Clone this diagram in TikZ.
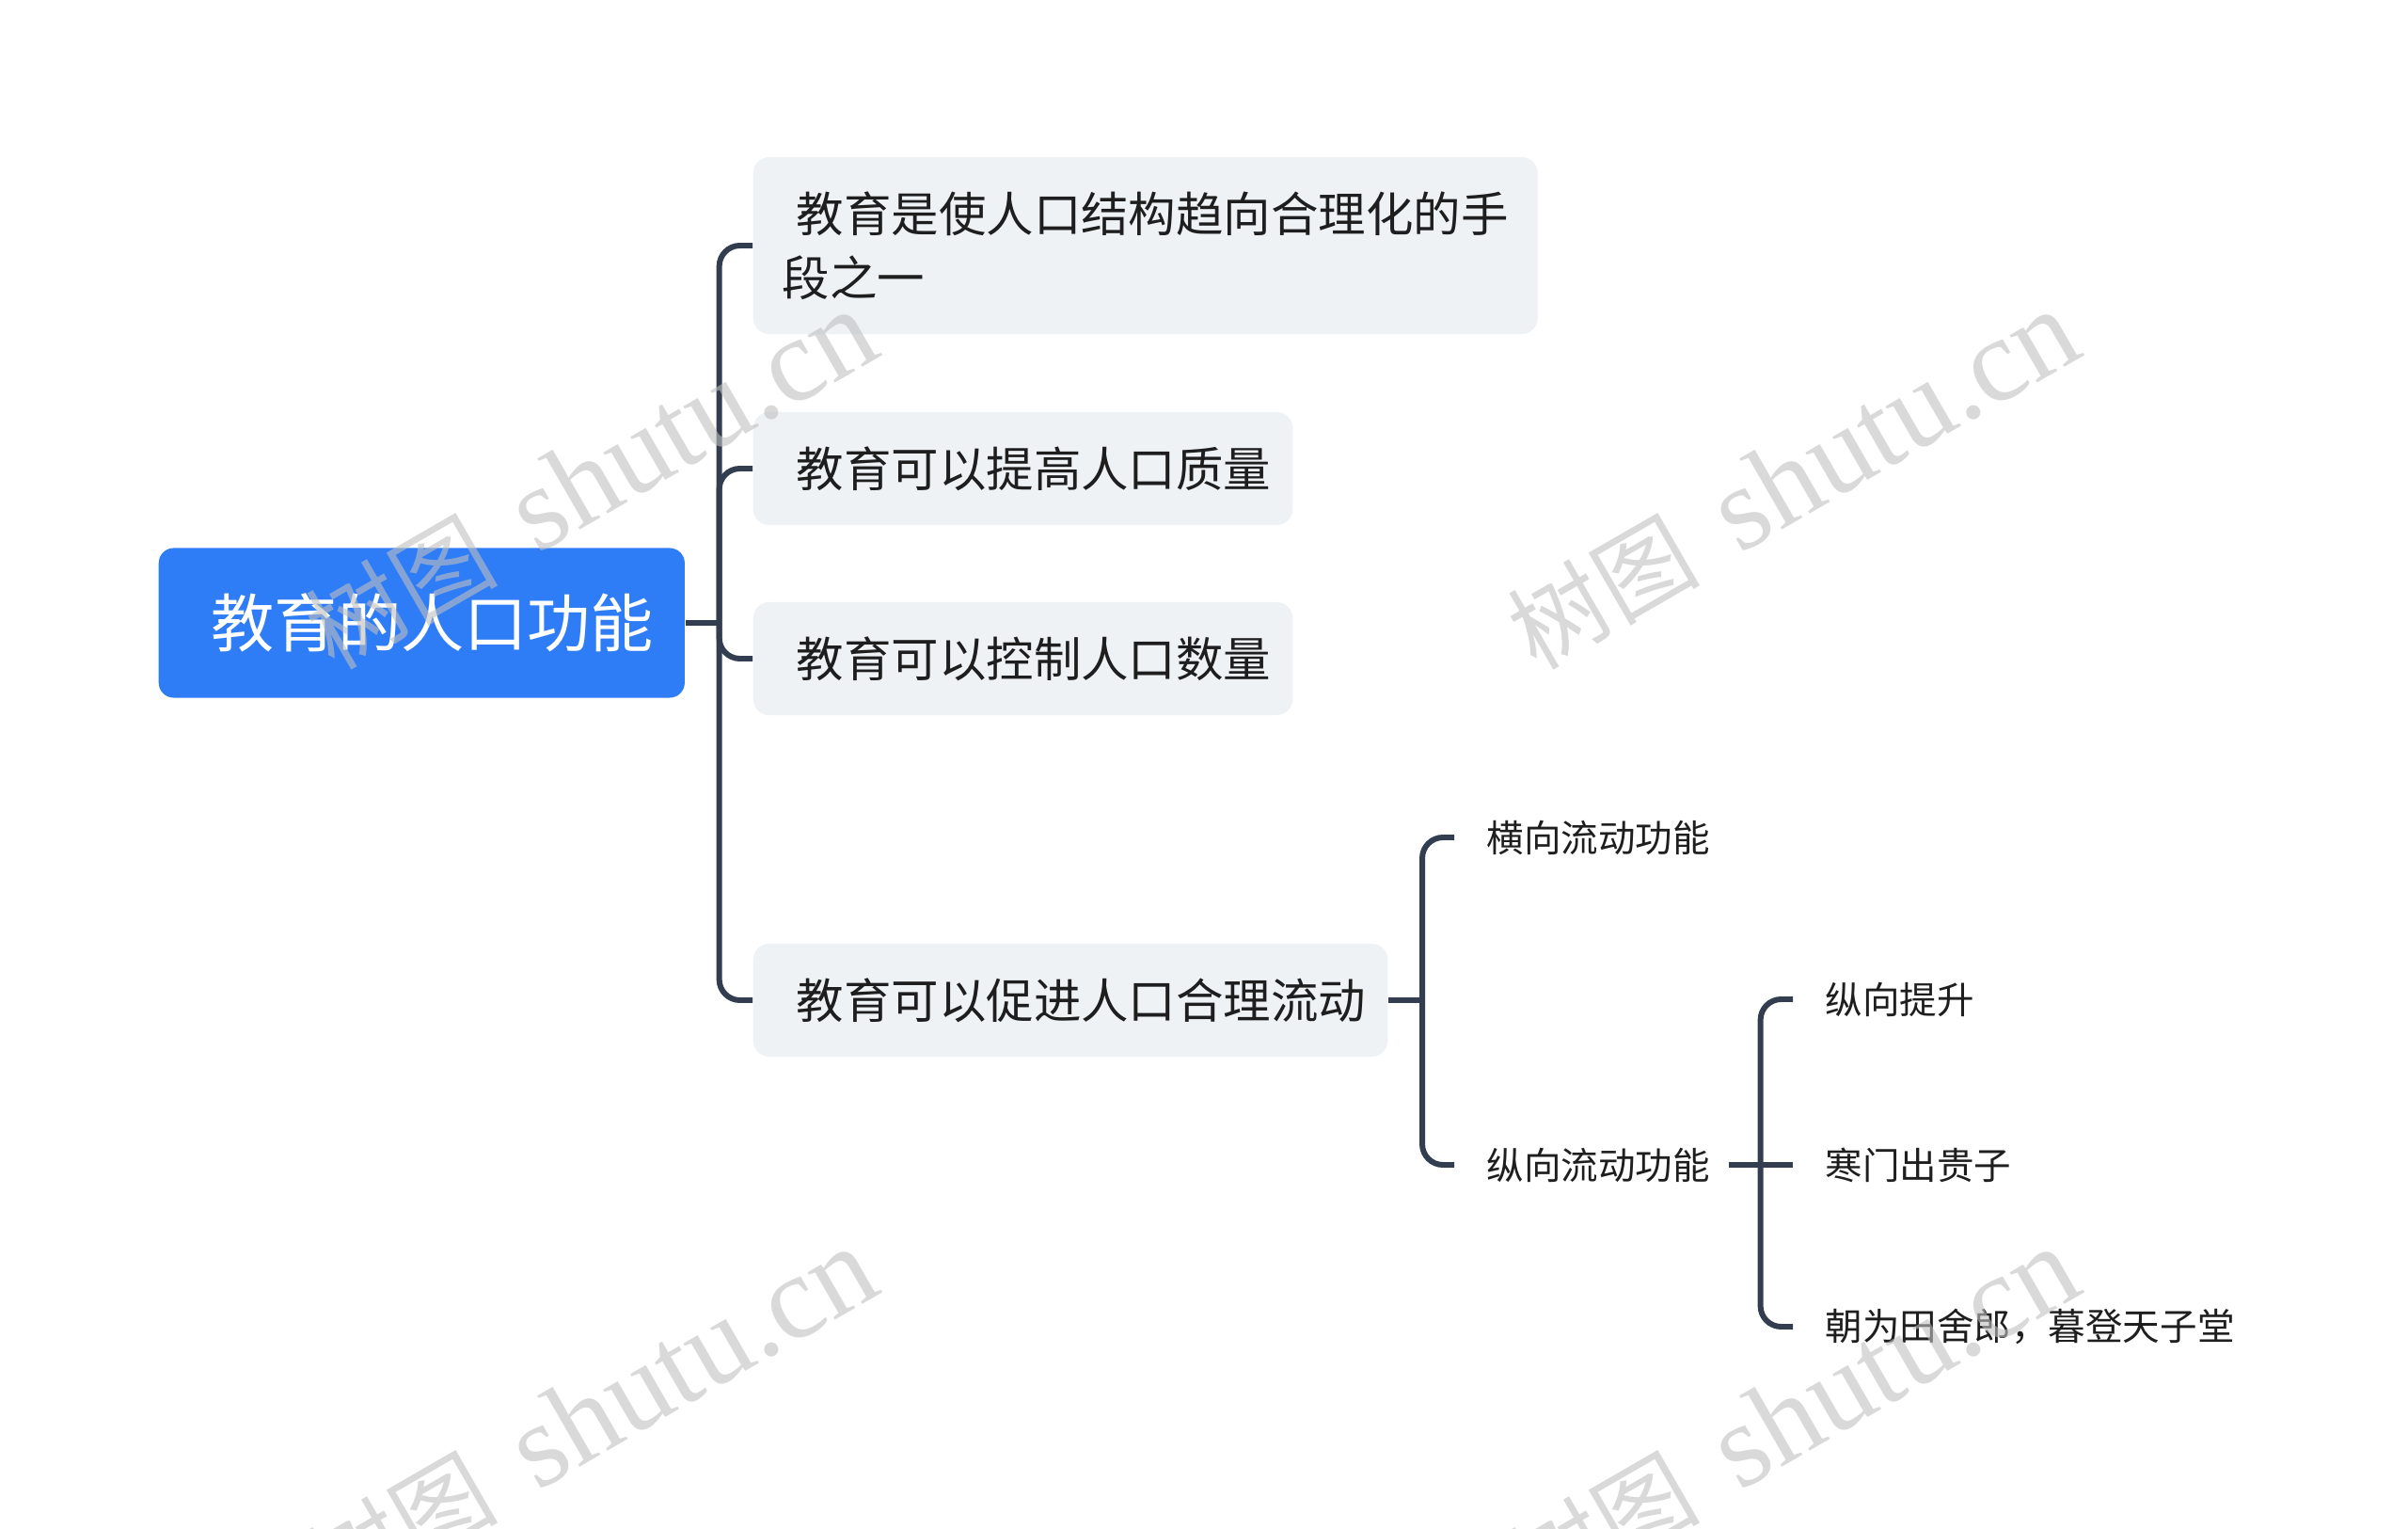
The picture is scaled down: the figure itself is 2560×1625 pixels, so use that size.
\documentclass[tikz,border=0pt]{standalone}
\usepackage{fontspec}
\setmainfont{Noto Sans CJK SC}
\newfontfamily\wmserif{Liberation Serif}
\usepackage{xcolor}
\definecolor{rootblue}{HTML}{2F7DF6}
\definecolor{boxgrey}{HTML}{EFF2F5}
\definecolor{slate}{HTML}{323E50}
\definecolor{ink}{HTML}{1E1E1E}
\definecolor{wmgrey}{HTML}{BFBFBF}
\usepackage{tikz}
\usetikzlibrary{positioning}

\begin{document}
\begin{tikzpicture}[
  x=0.01cm, y=-0.01cm,
  link/.style={draw=slate, line width=1.7pt, rounded corners=0.22cm},
  lead/.style={execute at begin node={\hspace{#1}}},
  rootbox/.style={fill=rootblue, text=white, rounded corners=0.16cm,
    font=\fontsize{19.1}{23}\selectfont, inner xsep=0.33cm, inner ysep=0pt,
    minimum height=1.59cm, lead=0.23cm},
  topicbase/.style={fill=boxgrey, text=ink, rounded corners=0.17cm,
    font=\fontsize{14.35}{19.3}\selectfont, inner xsep=0.23cm, inner ysep=0pt,
    minimum height=1.2cm},
  topic/.style={topicbase, lead=0.23cm},
  leaf/.style={text=ink, font=\fontsize{11.24}{14}\selectfont,
    inner xsep=0.19cm, inner ysep=0.1cm, lead=0.15cm},
  wmark/.style={text=wmgrey, opacity=0.6, rotate=30, anchor=base}
]
\useasboundingbox (0,0) rectangle (2560,1625);

% Root
\node[rootbox, anchor=west] (root) at (168,662) {教育的人口功能};

% First level
\node[topicbase, anchor=west, align=left, inner xsep=0.31cm, minimum height=1.88cm]
  (b1) at (800,261) {\hspace{0.15cm}教育是使人口结构趋向合理化的手\\段之一};
\node[topic, anchor=west] (b2) at (800,498) {教育可以提高人口质量};
\node[topic, anchor=west] (b3) at (800,700) {教育可以控制人口数量};
\node[topic, anchor=west] (b4) at (800,1063) {教育可以促进人口合理流动};

\coordinate (t1) at ([xshift=0.36cm]root.east);
\draw[link] (root.east) -- (t1);
\foreach \b in {b1,b2,b3,b4} {
  \draw[link] (t1) |- (\b.west);
}

% Second level
\node[leaf, anchor=west] (l1) at (1546,890) {横向流动功能};
\node[leaf, anchor=west] (l2) at (1546,1238) {纵向流动功能};

\coordinate (t2) at ([xshift=0.36cm]b4.east);
\draw[link] (b4.east) -- (t2);
\foreach \l in {l1,l2} {
  \draw[link] (t2) |- (\l.west);
}

% Third level
\node[leaf, anchor=west] (m1) at (1906,1062) {纵向提升};
\node[leaf, anchor=west] (m2) at (1906,1238) {寒门出贵子};
\node[leaf, anchor=west] (m3) at (1906,1410) {朝为田舍郎，暮登天子堂};

\coordinate (t3) at ([xshift=0.34cm]l2.east);
\draw[link] (l2.east) -- (t3) -- (m2.west);
\foreach \m in {m1,m3} {
  \draw[link] (t3) |- (\m.west);
}

% Watermarks
\foreach \wx/\wy [count=\i] in {648/545, 1926/545, 648/1541, 1926/1541} {
  \node[wmark] (wm\i) at (\wx,\wy)
    {\fontsize{29}{32}\selectfont 树图\hspace{0.45cm}{\wmserif\fontsize{36}{40}\selectfont shutu.cn}};
}

\end{tikzpicture}
\end{document}
